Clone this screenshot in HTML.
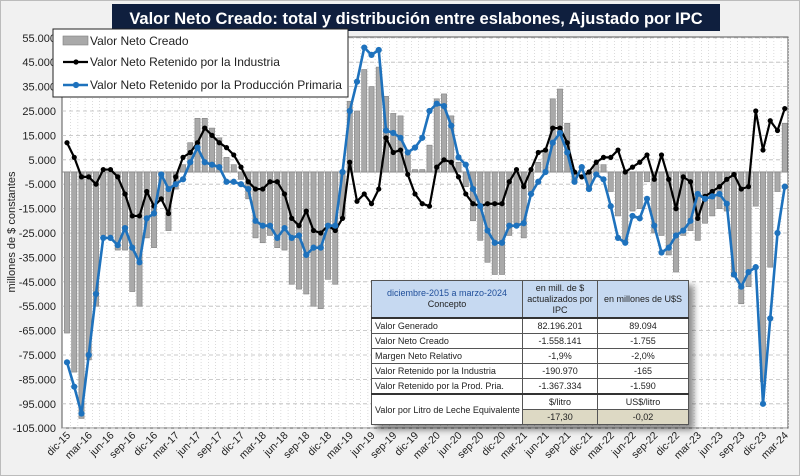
<!DOCTYPE html>
<html><head><meta charset="utf-8"><style>
body{margin:0;width:800px;height:476px;overflow:hidden;background:#fff;font-family:"Liberation Sans",sans-serif}
#wrap{position:absolute;left:0;top:0;width:798px;height:474px;border:1px solid #bcbcbc;background:#f1f1f1}
svg{position:absolute;left:0;top:0}
#tbl{position:absolute;left:371px;top:280px;border-collapse:collapse;table-layout:fixed;width:317px;background:#fff;font-size:9px;box-shadow:5px 5px 6px rgba(0,0,0,0.45);font-family:"Liberation Sans",sans-serif}
#tbl td{border:1px solid #555;padding:0 3px;height:14px;white-space:nowrap;overflow:hidden;color:#222}
#tbl .h td{background:#c6d9f1;text-align:center;height:36px;line-height:11px;border-bottom:2px solid #333}
#tbl td.c{text-align:center}
#tbl .tan{background:#ddd9c4}
</style></head><body><div id="wrap"></div>
<svg id="s" width="800" height="476" xmlns="http://www.w3.org/2000/svg"></svg>
<table id="tbl">
<colgroup><col style="width:151px"><col style="width:75px"><col style="width:91px"></colgroup>
<tr class="h"><td><span style="color:#1f4e9a">diciembre-2015 a marzo-2024</span><br>Concepto</td><td>en mill. de $<br>actualizados por<br>IPC</td><td style="padding:0 1px">en millones de U$S</td></tr>
<tr><td>Valor Generado</td><td class="c">82.196.201</td><td class="c">89.094</td></tr>
<tr><td>Valor Neto Creado</td><td class="c">-1.558.141</td><td class="c">-1.755</td></tr>
<tr><td>Margen Neto Relativo</td><td class="c">-1,9%</td><td class="c">-2,0%</td></tr>
<tr><td>Valor Retenido por la Industria</td><td class="c">-190.970</td><td class="c">-165</td></tr>
<tr><td>Valor Retenido por la Prod. Pria.</td><td class="c">-1.367.334</td><td class="c">-1.590</td></tr>
<tr><td rowspan="2" class="c" style="border-top:2px solid #333">Valor por Litro de Leche Equivalente</td><td class="c" style="border-top:2px solid #333">$/litro</td><td class="c" style="border-top:2px solid #333">US$/litro</td></tr>
<tr><td class="c tan">-17,30</td><td class="c tan">-0,02</td></tr>
</table>
<script>
var B=[12,6,-2,-2,-5,1,1,-2,-9,-18,-18,-8,-14,-11,-17,-2,6,8,12,18,15,12,10,7,2,-4,-7,-7,-4,-4,-9,-19,-22,
-16,-24,-25,-22,-24,-19,4,-12,-9,-13,-7,14,8,9,-1,-9,-13,-14,2,5,4,-2,-9,-13,-14,-13,-13,-13,-4,1,-6,1,8,
9,18,18,12,0,-2,0,4,6,6,9,0,2,4,7,-3,7,-3,-15,-2,-4,-19,-10,-8,-6,-3,-1,-7,-6,25,9,21,17,26];
var L=[-78,-88,-99,-75,-50,-27,-27,-30,-23,-31,-37,-19,-17,-1,-7,-5,-3,4,10,4,3,2,-4,-4,-5,-7,-20,-22,-22,-27,-23,-27,-26,
-34,-31,-31,-22,-22,0,25,37,51,48,50,17,16,14,8,10,14,25,28,27,19,6,3,-7,-14,-24,-29,-29,-22,-22,-21,-9,-4,
0,12,16,8,-4,2,-7,-1,-3,-14,-27,-29,-18,-19,-11,-22,-33,-31,-26,-24,-20,-9,-11,-10,-9,-13,-42,-47,-41,-39,-95,-60,-25,-6];
function X(i){return 67+i*7.25}function Y(v){return 172-v*2.44}
var h='';
h+='<rect x="62" y="37" width="726" height="391" fill="#fff" stroke="#555" stroke-width="1"/>';
for(var i=0;i<100;i++){h+='<line x1="'+(X(i)+3.6)+'" y1="38" x2="'+(X(i)+3.6)+'" y2="428" stroke="#ccc" stroke-width="0.7" stroke-dasharray="1,2"/>';}
for(var v=55;v>=-105;v-=10){var y=Y(v);h+='<line x1="62" y1="'+y+'" x2="788" y2="'+y+'" stroke="#bbb" stroke-width="0.8" stroke-dasharray="4,3"/>';
h+='<text x="56" y="'+(y+4)+'" text-anchor="end" font-size="11" fill="#222">'+(v<0?'-':'')+Math.abs(v)+'.000</text>';}
h+='<line x1="62" y1="172" x2="788" y2="172" stroke="#888" stroke-width="1"/>';
for(i=0;i<100;i++){var s=B[i]+L[i],y0=Y(0),y1=Y(s);h+='<rect x="'+(X(i)-2.6)+'" y="'+Math.min(y0,y1)+'" width="5.2" height="'+Math.abs(y1-y0)+'" fill="#a9a9a9" stroke="#808080" stroke-width="0.6"/>';}
function line(a,c,w,r){var p=a.map(function(v,i){return X(i)+','+Y(v)}).join(' ');var o='<polyline points="'+p+'" fill="none" stroke="'+c+'" stroke-width="'+w+'" stroke-linejoin="round"/>';a.forEach(function(v,i){o+='<circle cx="'+X(i)+'" cy="'+Y(v)+'" r="'+r+'" fill="'+c+'"/>'});return o;}
h+=line(B,'#000',2.2,2.6);h+=line(L,'#1e72bd',2.6,3.1);
var m=['dic','mar','jun','sep'];
for(i=0;i<100;i+=3){var k=(i/3)%4,yr=15+Math.floor(i/12)+(k==0?0:1);var lab=m[k]+'-'+yr;var x=X(i)+4;h+='<text transform="translate('+x+',436) rotate(-45)" text-anchor="end" font-size="10.5" fill="#222">'+lab+'</text>';}
h+='<text transform="translate(15,232) rotate(-90)" text-anchor="middle" font-size="11" fill="#222">millones de $ constantes</text>';
h+='<rect x="112" y="4" width="608" height="27" fill="#0f1f3e"/><text x="416" y="24" text-anchor="middle" font-size="16.5" font-weight="bold" fill="#fff">Valor Neto Creado: total y distribución  entre eslabones, Ajustado  por IPC</text>';
h+='<rect x="53" y="29" width="295" height="68" fill="#fff" stroke="#222" stroke-width="1"/>';
h+='<rect x="63" y="36" width="25" height="9" fill="#a9a9a9" stroke="#808080" stroke-width="0.6"/><text x="90" y="45" font-size="12" fill="#222">Valor Neto Creado</text>';
h+='<line x1="63" y1="62" x2="88" y2="62" stroke="#000" stroke-width="2.2"/><circle cx="76" cy="62" r="2.6"/><text x="90" y="66" font-size="12" fill="#222">Valor Neto Retenido por la Industria</text>';
h+='<line x1="63" y1="85" x2="88" y2="85" stroke="#1e72bd" stroke-width="2.6"/><circle cx="76" cy="85" r="3.1" fill="#1e72bd"/><text x="90" y="89" font-size="12" fill="#222">Valor Neto Retenido por la Producción Primaria</text>';
document.getElementById('s').innerHTML=h;
</script>
</body></html>
